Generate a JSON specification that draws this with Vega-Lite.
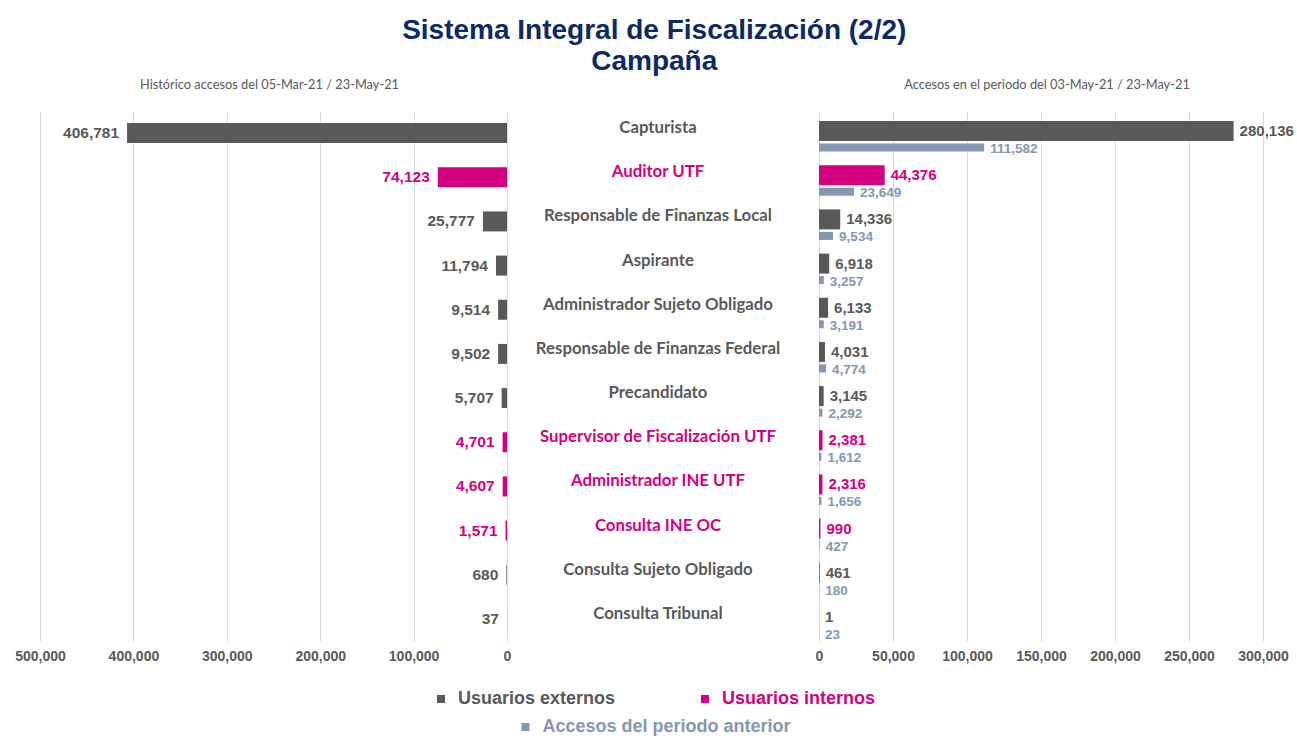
{
  "$schema": "https://vega.github.io/schema/vega-lite/v6.json",
  "background": "white",
  "padding": {"left": 14, "top": 17, "right": 4, "bottom": 4},
  "bounds": "flush",
  "spacing": 0,
  "title": {
    "text": ["Sistema Integral de Fiscalización (2/2)", "Campaña"],
    "font": "Liberation Sans",
    "fontSize": 28,
    "fontWeight": "bold",
    "color": "#0c2a66",
    "lineHeight": 31,
    "anchor": "middle",
    "offset": 3
  },
  "data": {
    "values": [
      {"rol": "Capturista", "tipo": "Usuarios externos", "historico": 406781, "actual": 280136, "anterior": 111582},
      {"rol": "Auditor UTF", "tipo": "Usuarios internos", "historico": 74123, "actual": 44376, "anterior": 23649},
      {"rol": "Responsable de Finanzas Local", "tipo": "Usuarios externos", "historico": 25777, "actual": 14336, "anterior": 9534},
      {"rol": "Aspirante", "tipo": "Usuarios externos", "historico": 11794, "actual": 6918, "anterior": 3257},
      {"rol": "Administrador Sujeto Obligado", "tipo": "Usuarios externos", "historico": 9514, "actual": 6133, "anterior": 3191},
      {"rol": "Responsable de Finanzas Federal", "tipo": "Usuarios externos", "historico": 9502, "actual": 4031, "anterior": 4774},
      {"rol": "Precandidato", "tipo": "Usuarios externos", "historico": 5707, "actual": 3145, "anterior": 2292},
      {"rol": "Supervisor de Fiscalización UTF", "tipo": "Usuarios internos", "historico": 4701, "actual": 2381, "anterior": 1612},
      {"rol": "Administrador INE UTF", "tipo": "Usuarios internos", "historico": 4607, "actual": 2316, "anterior": 1656},
      {"rol": "Consulta INE OC", "tipo": "Usuarios internos", "historico": 1571, "actual": 990, "anterior": 427},
      {"rol": "Consulta Sujeto Obligado", "tipo": "Usuarios externos", "historico": 680, "actual": 461, "anterior": 180},
      {"rol": "Consulta Tribunal", "tipo": "Usuarios externos", "historico": 37, "actual": 1, "anterior": 23}
    ]
  },
  "hconcat": [
    {
      "width": 467,
      "height": 530,
      "title": {"text": "Histórico accesos del 05-Mar-21 / 23-May-21", "font": "Lato", "fontSize": 12.8, "fontWeight": "normal", "color": "#595959", "offset": 19, "anchor": "middle", "dx": -4},
      "encoding": {
        "y": {"field": "rol", "type": "nominal", "sort": null, "axis": null, "scale": {"paddingInner": 0, "paddingOuter": 0}},
        "x": {"field": "historico", "type": "quantitative", "title": null,
              "scale": {"domain": [0, 500000], "reverse": true, "nice": false},
              "axis": {"values": [0, 100000, 200000, 300000, 400000, 500000], "labelExpr": "format(datum.value, ',')"}}
      },
      "layer": [
        {
          "mark": {"type": "bar", "height": 20},
          "encoding": {
            "color": {
              "field": "tipo",
              "type": "nominal",
              "scale": {"domain": ["Usuarios externos", "Usuarios internos"], "range": ["#595959", "#d5007f"]},
              "legend": {
                "orient": "bottom",
                "direction": "horizontal",
                "title": null,
                "labelLimit": 400,
                "columnPadding": 80,
                "labelColor": {"expr": "datum.value === 'Usuarios internos' ? '#d5007f' : '#595959'"}
              }
            }
          }
        },
        {
          "mark": {"type": "text", "align": "right", "baseline": "middle", "dx": -8, "font": "Liberation Sans", "fontSize": 15.5, "fontWeight": "bold"},
          "encoding": {
            "text": {"field": "historico", "type": "quantitative", "format": ","},
            "color": {"field": "tipo", "type": "nominal"}
          }
        }
      ]
    },
    {
      "width": 312,
      "height": 530,
      "mark": {"type": "text", "baseline": "middle", "dy": -5, "dx": -5, "font": "Lato", "fontSize": 16.8, "fontWeight": "bold"},
      "encoding": {
        "y": {"field": "rol", "type": "nominal", "sort": null, "axis": null, "scale": {"paddingInner": 0, "paddingOuter": 0}},
        "text": {"field": "rol", "type": "nominal"},
        "color": {"field": "tipo", "type": "nominal"}
      }
    },
    {
      "width": 444,
      "height": 530,
      "title": {"text": "Accesos en el periodo del 03-May-21 / 23-May-21", "font": "Lato", "fontSize": 12.8, "fontWeight": "normal", "color": "#595959", "offset": 19, "anchor": "middle", "dx": 6},
      "encoding": {
        "y": {"field": "rol", "type": "nominal", "sort": null, "axis": null, "scale": {"paddingInner": 0, "paddingOuter": 0}}
      },
      "layer": [
        {
          "mark": {"type": "bar", "height": 20, "yOffset": -2},
          "encoding": {
            "x": {"field": "actual", "type": "quantitative", "title": null,
                  "scale": {"domain": [0, 300000], "nice": false},
                  "axis": {"values": [0, 50000, 100000, 150000, 200000, 250000, 300000], "labelExpr": "format(datum.value, ',')"}},
            "color": {"field": "tipo", "type": "nominal"}
          }
        },
        {
          "mark": {"type": "text", "align": "left", "baseline": "middle", "dx": 6, "yOffset": -2, "font": "Liberation Sans", "fontSize": 15, "fontWeight": "bold"},
          "encoding": {
            "x": {"field": "actual", "type": "quantitative"},
            "text": {"field": "actual", "type": "quantitative", "format": ","},
            "color": {"field": "tipo", "type": "nominal"}
          }
        },
        {
          "mark": {"type": "bar", "height": 8, "yOffset": 14.5},
          "encoding": {
            "x": {"field": "anterior", "type": "quantitative"},
            "fill": {
              "datum": "Accesos del periodo anterior",
              "type": "nominal",
              "scale": {"domain": ["Accesos del periodo anterior"], "range": ["#8497b0"]},
              "legend": {"orient": "bottom", "direction": "horizontal", "title": null, "labelLimit": 400, "labelColor": "#8497b0"}
            }
          }
        },
        {
          "mark": {"type": "text", "align": "left", "baseline": "middle", "dx": 6, "yOffset": 16, "font": "Liberation Sans", "fontSize": 13.5, "fontWeight": "bold", "color": "#8497b0"},
          "encoding": {
            "x": {"field": "anterior", "type": "quantitative"},
            "text": {"field": "anterior", "type": "quantitative", "format": ","}
          }
        }
      ]
    }
  ],
  "resolve": {"scale": {"color": "shared", "fill": "shared"}},
  "config": {
    "view": {"stroke": null},
    "axis": {
      "labelFont": "Liberation Sans",
      "labelFontSize": 14,
      "labelFontWeight": "bold",
      "labelColor": "#595959",
      "labelFlush": false,
      "gridColor": "#d9d9d9",
      "gridWidth": 1,
      "domain": false,
      "ticks": false,
      "labelPadding": 8
    },
    "scale": {"bandPaddingInner": 0, "bandPaddingOuter": 0},
    "legend": {
      "orient": "bottom",
      "layout": {"bottom": {"anchor": "middle", "direction": "vertical", "center": true, "margin": 10}},
      "offset": 27,
      "title": null,
      "symbolType": "square",
      "symbolSize": 64,
      "symbolStrokeWidth": 0,
      "labelFont": "Liberation Sans",
      "labelFontSize": 18,
      "labelFontWeight": "bold",
      "labelOffset": 8,
      "labelLimit": 400
    }
  }
}
